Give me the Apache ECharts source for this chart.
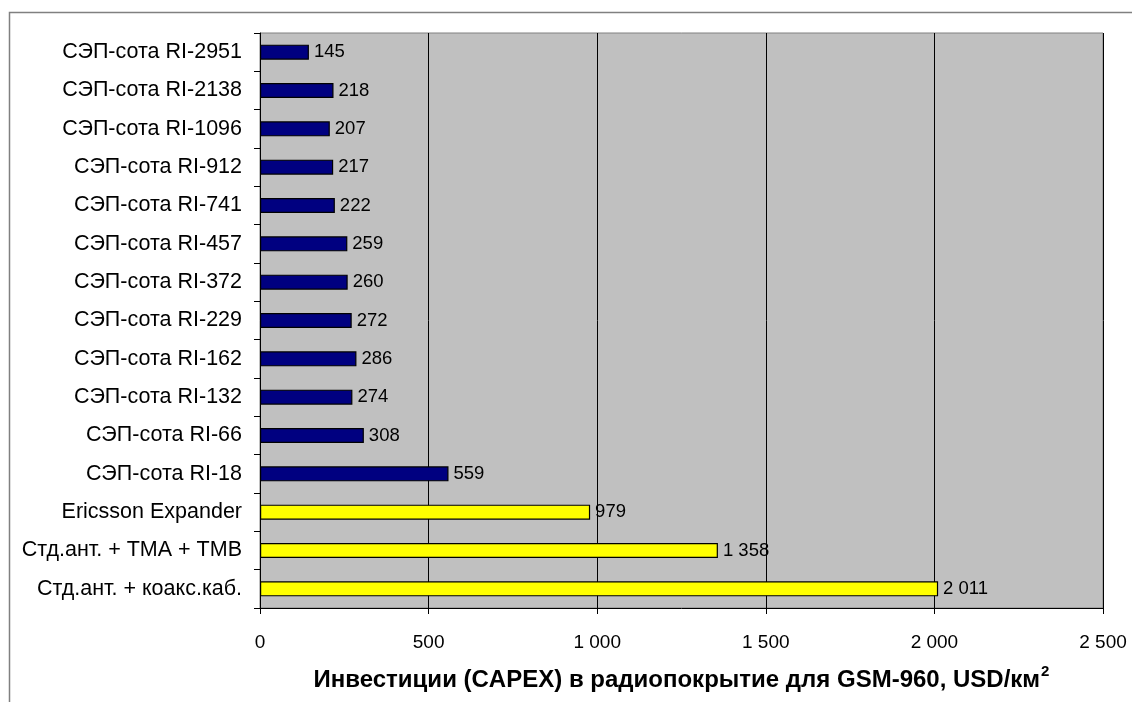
<!DOCTYPE html>
<html>
<head>
<meta charset="utf-8">
<script src="https://cdn.jsdelivr.net/npm/echarts@6/dist/echarts.min.js"></script>
<style>
  html, body { margin: 0; padding: 0; background: #ffffff; }
  #chart { width: 1132px; height: 702px; }
</style>
</head>
<body>
<div id="chart"></div>
<script>
// Solutions, listed top to bottom
const categories = [
  'СЭП-сота RI-2951',
  'СЭП-сота RI-2138',
  'СЭП-сота RI-1096',
  'СЭП-сота RI-912',
  'СЭП-сота RI-741',
  'СЭП-сота RI-457',
  'СЭП-сота RI-372',
  'СЭП-сота RI-229',
  'СЭП-сота RI-162',
  'СЭП-сота RI-132',
  'СЭП-сота RI-66',
  'СЭП-сота RI-18',
  'Ericsson Expander',
  'Стд.ант. + TMA + TMB',
  'Стд.ант. + коакс.каб.'
];
// CAPEX, USD per km²
const capex = [145, 218, 207, 217, 222, 259, 260, 272, 286, 274, 308, 559, 979, 1358, 2011];
// conventional solutions (yellow) vs. СЭП cells (navy)
const isConventional = [false, false, false, false, false, false, false, false, false, false, false, false, true, true, true];
const xTicks = [0, 500, 1000, 1500, 2000, 2500];

const fmt = v => String(v).replace(/\B(?=(\d{3})+(?!\d))/g, ' ');
const FONT = '"Liberation Sans", Arial, sans-serif';

const chart = echarts.init(document.getElementById('chart'), null, { renderer: 'canvas' });
chart.setOption({
  animation: false,
  backgroundColor: '#ffffff',
  grid: { left: 260, right: 29, top: 33, bottom: 93, show: true, backgroundColor: '#c0c0c0', borderColor: '#808080', borderWidth: 1 },
  graphic: [
    { type: 'polyline', shape: { points: [[9.5, 702], [9.5, 12.5], [1132, 12.5]] }, style: { stroke: '#808080', lineWidth: 1.5, fill: null }, silent: true }
  ],
  xAxis: {
    type: 'value', min: xTicks[0], max: xTicks[xTicks.length - 1], interval: 500,
    name: '{t|Инвестиции (CAPEX) в радиопокрытие для GSM-960, USD/км}{s|2}',
    nameLocation: 'middle', nameGap: 56,
    nameTextStyle: {
      rich: {
        t: { fontFamily: FONT, fontSize: 24, fontWeight: 'bold', color: '#000', verticalAlign: 'bottom', lineHeight: 28 },
        s: { fontFamily: FONT, fontSize: 15, fontWeight: 'bold', color: '#000', verticalAlign: 'top', lineHeight: 28, padding: [0, 0, 18, 1] }
      }
    },
    axisLine: { show: true, lineStyle: { color: '#000', width: 1 } },
    axisTick: { show: true, length: 6, lineStyle: { color: '#000' } },
    splitLine: { show: true, lineStyle: { color: '#000', width: 1 } },
    axisLabel: { fontFamily: FONT, fontSize: 19, color: '#000', margin: 25, formatter: v => fmt(v) }
  },
  yAxis: {
    type: 'category', data: categories, inverse: true,
    axisLine: { show: true, lineStyle: { color: '#000', width: 1 } },
    axisTick: { show: true, length: 6, lineStyle: { color: '#000' } },
    axisLabel: { fontFamily: FONT, fontSize: 21.5, color: '#000', margin: 18 }
  },
  series: [{
    type: 'bar',
    data: capex,
    barWidth: 15,
    itemStyle: {
      color: p => isConventional[p.dataIndex] ? '#ffff00' : '#000080',
      borderColor: '#000', borderWidth: 1.2
    },
    label: {
      show: true, position: 'right', distance: 5,
      fontFamily: FONT, fontSize: 18.5, color: '#000',
      formatter: p => fmt(p.value)
    }
  }]
});
</script>
</body>
</html>
